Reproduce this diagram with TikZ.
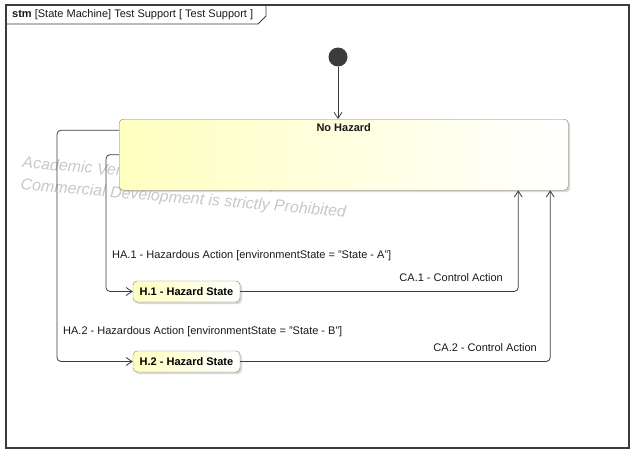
\documentclass[tikz,border=0pt]{standalone}
\usepackage{fontspec}
\setmainfont{Liberation Sans}
\usetikzlibrary{shadows,arrows.meta}

\definecolor{stateyellow}{RGB}{255,255,192}
\definecolor{stateborder}{RGB}{130,130,96}
\definecolor{linegrey}{RGB}{60,60,60}

\tikzset{
  state/.style={draw=stateborder, rounded corners=4pt, left color=stateyellow, right color=white,
    drop shadow={shadow xshift=2pt, shadow yshift=-2pt, fill=black!30}},
  trans/.style={draw=linegrey, line width=0.8pt, rounded corners=4pt,
    -{Straight Barb[length=6pt,width=8pt]}},
  lbl/.style={font=\fontsize{11}{13}\selectfont, inner sep=0pt, text=black!90},
}

\begin{document}
\begin{tikzpicture}[x=1pt,y=-1pt]
  \useasboundingbox (0,0) rectangle (634,453);
  % frame and its title tab
  \draw[linegrey, line width=1.1pt] (6,5) rectangle (629,448);
  \draw[linegrey, line width=0.8pt] (6,24) -- (258,24) -- (266,16) -- (266,5);
  \node[lbl, anchor=west] (title) at (12,14.5) {\textbf{stm} [State Machine] Test Support [ Test Support ]};

  % watermark
  \node[font=\fontsize{16}{22}\selectfont\itshape, text=black!22, align=left, anchor=north west,
    inner sep=0pt, rotate=-4.8] (mark) at (23,156)
    {Academic Version for Teaching Only\\Commercial Development is strictly Prohibited};

  % states
  \node[circle, fill=linegrey, minimum size=19pt, inner sep=0pt] (init) at (338,57) {};
  \node[state, minimum width=449pt, minimum height=71pt, anchor=north west] (nohazard) at (119,119) {};
  \node[lbl, font=\fontsize{11}{13}\selectfont\bfseries, anchor=north] (nohazardname) at ([yshift=-4pt]nohazard.north) {No Hazard};
  \node[state, minimum width=107pt, minimum height=21pt, font=\fontsize{11}{13}\selectfont\bfseries] (h1) at (186.5,291.5) {H.1 - Hazard State};
  \node[state, minimum width=107pt, minimum height=21pt, font=\fontsize{11}{13}\selectfont\bfseries] (h2) at (186.5,361.5) {H.2 - Hazard State};

  % transitions
  \draw[trans] (init) -- (init |- nohazard.north);
  \draw[trans] (nohazard.west) -- ++(-13,0) |- (h1.west);
  \draw[trans] ([yshift=24.5pt]nohazard.west) -- ++(-62,0) |- (h2.west);
  \draw[trans] (h1.east) -| ([xshift=174.5pt]nohazard.south);
  \draw[trans] (h2.east) -| ([xshift=206.5pt]nohazard.south);

  \node[lbl, anchor=west] (ha1) at (112,256) {HA.1 - Hazardous Action [environmentState = "State - A"]};
  \node[lbl, anchor=east] (ca1) at (503,278) {CA.1 - Control Action};
  \node[lbl, anchor=west] (ha2) at (63,332) {HA.2 - Hazardous Action [environmentState = "State - B"]};
  \node[lbl, anchor=east] (ca2) at (537,348) {CA.2 - Control Action};
\end{tikzpicture}
\end{document}
